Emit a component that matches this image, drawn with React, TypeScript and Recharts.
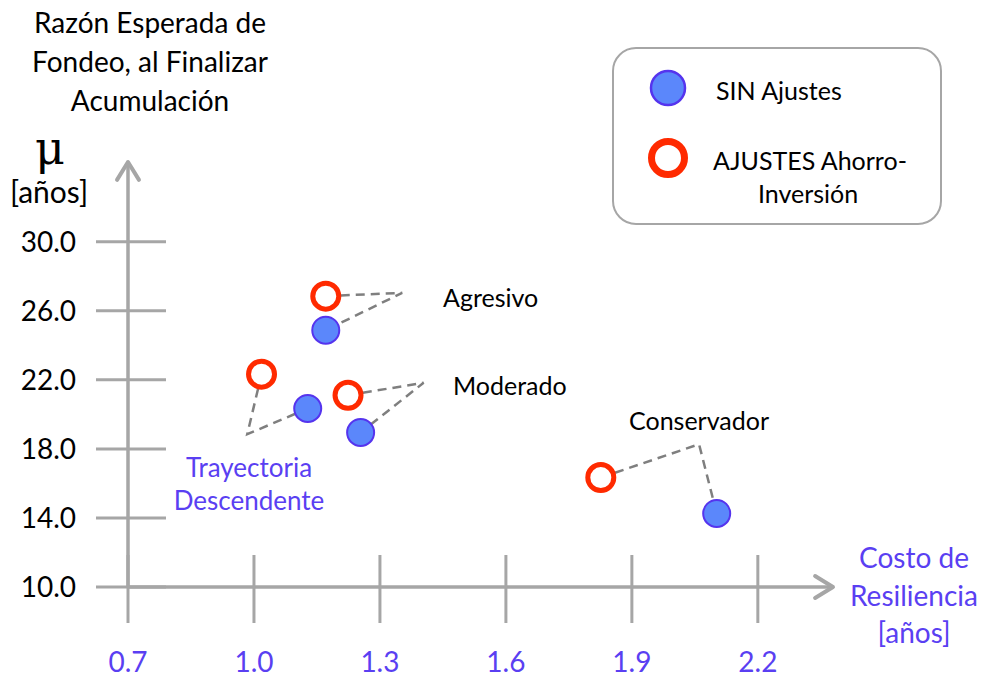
import React from 'react'
import { ScatterChart, Scatter, XAxis, YAxis, ReferenceLine } from 'recharts'

// perfiles (orden común a todas las listas)
const perfiles = ['Agresivo', 'Trayectoria Descendente', 'Moderado', 'Conservador']

// Costo de Resiliencia [años] / Razón Esperada de Fondeo [años]
const sinAjustesX = [1.171, 1.128, 1.254, 2.102]
const sinAjustesY = [24.88, 20.34, 18.95, 14.26]
const conAjustesX = [1.171, 1.018, 1.224, 1.826]
const conAjustesY = [26.85, 22.33, 21.11, 16.34]

// vértice de cada línea punteada (rótulo del perfil)
const verticeX = [1.353, 0.984, 1.404, 2.06]
const verticeY = [27.04, 18.85, 21.83, 18.27]

const xTicks = [0.7, 1.0, 1.3, 1.6, 1.9, 2.2]
const yTicks = [10, 14, 18, 22, 26, 30]
const xDomain = [0.7, 2.379]
const yDomain = [10, 34.62]

const AXIS = '#a6a6a6'
const PURPLE = '#5a3ff2'
const BLUE_FILL = '#5b87fb'
const BLUE_EDGE = '#5534ee'
const RED = '#ff2a00'
const FONT = 'Lato, "Open Sans", sans-serif'

const sinAjustes = perfiles.map((p, i) => ({ perfil: p, x: sinAjustesX[i], y: sinAjustesY[i] }))
const conAjustes = perfiles.map((p, i) => ({ perfil: p, x: conAjustesX[i], y: conAjustesY[i] }))
const callouts = perfiles.map((p, i) => [
    { x: conAjustesX[i], y: conAjustesY[i] },
    { x: verticeX[i], y: verticeY[i] },
    { x: sinAjustesX[i], y: sinAjustesY[i] }
])

const XTick = ({ x, y, payload }: any) => (
    <g>
        <line x1={x} x2={x} y1={y - 32} y2={y + 36} stroke={AXIS} strokeWidth={3} />
        <text x={x} y={y + 85} textAnchor="middle" fill={PURPLE} fontSize={28}>
            {Number(payload.value).toFixed(1)}
        </text>
    </g>
)

const YTick = ({ x, y, payload }: any) => (
    <g>
        <line x1={x - 32} x2={x + 38} y1={y} y2={y} stroke={AXIS} strokeWidth={3} />
        <text x={x - 52} y={y + 10} textAnchor="end" fill="#000" fontSize={28}>
            {Number(payload.value).toFixed(1)}
        </text>
    </g>
)

const Arrow = ({ x1, y1, x2, y2 }: any) => {
    const ang = Math.atan2(y2 - y1, x2 - x1)
    const len = 21
    const spread = 0.55
    const ax = x2 - len * Math.cos(ang - spread)
    const ay = y2 - len * Math.sin(ang - spread)
    const bx = x2 - len * Math.cos(ang + spread)
    const by = y2 - len * Math.sin(ang + spread)
    return (
        <g>
            <line x1={x1} y1={y1} x2={x2 - 2 * Math.cos(ang)} y2={y2 - 2 * Math.sin(ang)} stroke={AXIS} strokeWidth={3.5} />
            <polyline
                points={`${ax},${ay} ${x2},${y2} ${bx},${by}`}
                fill="none"
                stroke={AXIS}
                strokeWidth={4}
                strokeLinecap="round"
                strokeLinejoin="round"
            />
        </g>
    )
}

const BlueDot = ({ cx, cy }: any) => (
    <circle cx={cx} cy={cy} r={13.5} fill={BLUE_FILL} stroke={BLUE_EDGE} strokeWidth={2} />
)
const RedRing = ({ cx, cy }: any) => (
    <circle cx={cx} cy={cy} r={13} fill="#fff" stroke={RED} strokeWidth={5} />
)

const Txt = ({ x, y, lines, align = 'center', color = '#000', size = 25, lh = 38, family = FONT }: any) => (
    <div
        style={{
            position: 'absolute',
            left: x,
            top: y,
            transform: `translate(${align === 'center' ? '-50%' : '0'}, -50%)`,
            textAlign: align,
            color,
            fontSize: size,
            lineHeight: `${lh}px`,
            fontFamily: family,
            whiteSpace: 'nowrap'
        }}
    >
        {lines.map((l: string) => (
            <div key={l}>{l}</div>
        ))}
    </div>
)

export default function App() {
    return (
        <div style={{ position: 'absolute', left: 0, top: 0, width: 984, height: 681, background: '#fff', fontFamily: FONT }}>
            <ScatterChart width={984} height={681} margin={{ top: 162, right: 151, bottom: 0, left: 0 }}>
                <XAxis
                    type="number"
                    dataKey="x"
                    domain={xDomain}
                    ticks={xTicks}
                    interval={0}
                    allowDataOverflow
                    height={94}
                    axisLine={false}
                    tickLine={false}
                    tickSize={0}
                    tickMargin={0}
                    tick={<XTick />}
                />
                <YAxis
                    type="number"
                    dataKey="y"
                    domain={yDomain}
                    ticks={yTicks}
                    interval={0}
                    allowDataOverflow
                    width={128}
                    axisLine={false}
                    tickLine={false}
                    tickSize={0}
                    tickMargin={0}
                    tick={<YTick />}
                />
                <ReferenceLine
                    segment={[{ x: xDomain[0], y: yDomain[0] }, { x: xDomain[1], y: yDomain[0] }]}
                    ifOverflow="visible"
                    shape={Arrow}
                />
                <ReferenceLine
                    segment={[{ x: xDomain[0], y: yDomain[0] }, { x: xDomain[0], y: yDomain[1] }]}
                    ifOverflow="visible"
                    shape={Arrow}
                />
                {callouts.map((pts, i) => (
                    <Scatter
                        key={perfiles[i]}
                        data={pts}
                        line={{ stroke: '#7f7f7f', strokeWidth: 2.5, strokeDasharray: '9 6' }}
                        shape={() => <g />}
                        isAnimationActive={false}
                    />
                ))}
                <Scatter name="SIN Ajustes" data={sinAjustes} shape={BlueDot} isAnimationActive={false} />
                <Scatter name="AJUSTES Ahorro-Inversión" data={conAjustes} shape={RedRing} isAnimationActive={false} />
            </ScatterChart>

            {/* títulos de ejes */}
            <Txt x={150} y={61} lines={['Razón Esperada de', 'Fondeo, al Finalizar', 'Acumulación']} size={28} lh={39} />
            <Txt x={50} y={148} lines={['μ']} size={46} lh={50} family='"DejaVu Serif", serif' />
            <Txt x={49} y={191} lines={['[años]']} size={30} />
            <Txt x={914} y={595} lines={['Costo de', 'Resiliencia', '[años]']} color={PURPLE} size={28} lh={37.5} />

            {/* rótulos de perfiles */}
            <Txt x={443} y={297} lines={['Agresivo']} align="left" />
            <Txt x={453} y={385} lines={['Moderado']} align="left" />
            <Txt x={629} y={420} lines={['Conservador']} align="left" />
            <Txt x={249} y={484} lines={['Trayectoria', 'Descendente']} color={PURPLE} size={26} lh={33} />

            {/* leyenda */}
            <div
                style={{
                    position: 'absolute',
                    left: 612,
                    top: 47,
                    width: 330,
                    height: 178,
                    boxSizing: 'border-box',
                    border: `2.5px solid ${AXIS}`,
                    borderRadius: 24
                }}
            />
            <svg style={{ position: 'absolute', left: 0, top: 0 }} width={984} height={681} pointerEvents="none">
                <circle cx={668} cy={88} r={17} fill={BLUE_FILL} stroke={BLUE_EDGE} strokeWidth={2.5} />
                <circle cx={668} cy={158} r={16.5} fill="#fff" stroke={RED} strokeWidth={7} />
            </svg>
            <Txt x={716} y={90} lines={['SIN Ajustes']} align="left" />
            <Txt x={713} y={160} lines={['AJUSTES Ahorro-']} align="left" />
            <Txt x={808} y={193} lines={['Inversión']} />
        </div>
    )
}
